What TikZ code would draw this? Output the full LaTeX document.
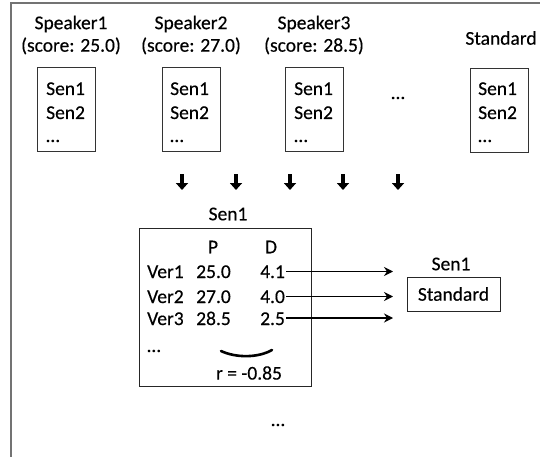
\documentclass[tikz,border=0pt]{standalone}
\usepackage{fontspec}
\setmainfont{Carlito}[UprightFeatures={FakeBold=0.35}]
\usetikzlibrary{arrows.meta}
\begin{document}
\begin{tikzpicture}[x=1pt,y=-1pt,
  every node/.style={font=\fontsize{19.5}{22.5}\selectfont, inner sep=0pt},
  frame/.style={draw=black!55, line width=1.8pt},
  docbox/.style={draw=black!80, line width=1pt, minimum width=58pt, minimum height=84pt},
  tabbox/.style={draw=black!85, line width=1pt, minimum width=172pt, minimum height=158pt},
  stdbox/.style={draw=black!85, line width=1pt, minimum width=93pt, minimum height=34pt},
  txt/.style={anchor=base west},
  downarrow/.style={line width=3.2pt, -{Triangle[length=7pt,width=12pt]}},
  maparrow/.style={line width=1.3pt, -{Stealth[length=9pt,width=9pt,inset=3pt]}}]
\useasboundingbox (0,0) rectangle (540,457);
% outer frame
\draw[frame] (541,3) -- (11,3) -- (11,458);

% top labels
\node[align=center] (sp1) at (71,35) {Speaker1\\(score: 25.0)};
\node[align=center] (sp2) at (191,35) {Speaker2\\(score: 27.0)};
\node[align=center] (sp3) at (314,35) {Speaker3\\(score: 28.5)};
\node (stdlab) at (501,38) {Standard};

% document boxes
\node[docbox] (b1) at (66,110) {};
\node[docbox] (b2) at (191,110) {};
\node[docbox] (b3) at (314.5,110) {};
\node[docbox] (b4) at (499,110.5) {};
\foreach \b/\x in {b1/46,b2/170,b3/294,b4/478}{
  \node[txt] (\b s1) at (\x,95) {Sen1};
  \node[txt] (\b s2) at (\x,119) {Sen2};
  \node[txt] (\b s3) at (\x,142) {…};
}
\node (mid) at (398,98) {…};

% down arrows
\foreach \i/\x in {1/182,2/236,3/290,4/343,5/398}{
  \coordinate (da\i) at (\x,174);
  \coordinate (db\i) at (\x,190);
  \draw[downarrow] (da\i) -- (db\i);
}

% table box
\node (tablab) at (228,214) {Sen1};
\node[tabbox] (tab) at (225,307) {};
\node (hP) at (213,247) {P};
\node (hD) at (271,247) {D};
\node[txt] (v1) at (147,278) {Ver1};
\node[txt] (v2) at (147,303) {Ver2};
\node[txt] (v3) at (147,325) {Ver3};
\node[txt] (p1) at (196,278) {25.0};
\node[txt] (p2) at (196,303) {27.0};
\node[txt] (p3) at (196,325) {28.5};
\node[txt] (d1) at (260,278) {4.1};
\node[txt] (d2) at (260,303) {4.0};
\node[txt] (d3) at (260,325) {2.5};
\node[txt] (vdots) at (147,352) {…};
\draw[line width=2.6pt, line cap=round] (221,351) .. controls (236,358) and (258,358) .. (272,350);
\node (r) at (249,373) {r = -0.85};

% standard box
\node (stdsen) at (451,264) {Sen1};
\node[stdbox] (std) at (453.5,294) {Standard};

% mapping arrows
\coordinate (e1) at (393,271.5);
\coordinate (e2) at (393,296.5);
\coordinate (e3) at (393,318);
\draw[maparrow] ([xshift=1pt]d1.east |- e1) -- (e1);
\draw[maparrow] ([xshift=1pt]d2.east |- e2) -- (e2);
\draw[maparrow] ([xshift=1pt]d3.east |- e3) -- (e3);

\node (bot) at (278,425) {…};
\end{tikzpicture}
\end{document}
